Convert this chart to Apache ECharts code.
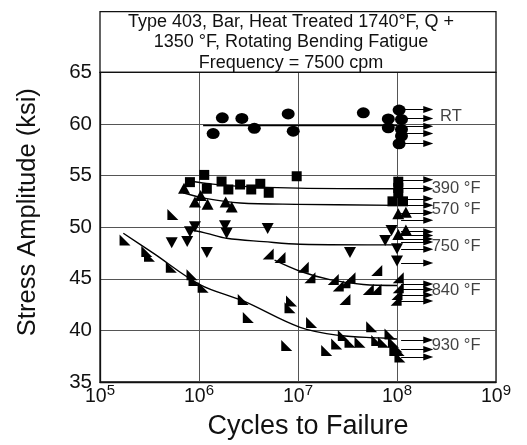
<!DOCTYPE html>
<html>
<head>
<meta charset="utf-8">
<script src="https://cdn.jsdelivr.net/npm/echarts@6/dist/echarts.min.js"></script>
<style>
html,body{margin:0;padding:0;background:#fff;}
#chart{width:527px;height:445px;}
</style>
</head>
<body>
<div id="chart"></div>
<script>
// ---- Data (cycles, stress ksi) ----
const titleLines = ['Type 403, Bar, Heat Treated 1740\u00b0F, Q +', '1350 \u00b0F, Rotating Bending Fatigue', 'Frequency = 7500 cpm'];
const xTickExponents = [5, 6, 7, 8, 9];
const yTicks = [35, 40, 45, 50, 55, 60, 65];

const rtPts = [[1.39e6,59.06],[1.72e6,60.59],[2.71e6,60.53],[3.62e6,59.57],[7.96e6,60.97],[8.95e6,59.3],[4.57e7,61.07],[8.17e7,60.48],[8.17e7,59.63],[1.05e8,61.34],[1.11e8,60.43],[1.11e8,59.47],[1.11e8,58.83],[1.05e8,58.08]];
const rtRunout = [61.39,60.52,59.78,59.06,58.1];
const rtFit = [[1.1e6,59.85],[1.0e8,59.85]];

const f390Pts = [[8.1e5,54.36],[1.13e6,55.06],[1.2e6,53.72],[1.69e6,54.42],[1.98e6,53.65],[2.6e6,54.13],[3.37e6,53.65],[4.16e6,54.2],[5.06e6,53.33],[9.7e6,54.93],[1.03e8,54.4],[1.03e8,53.8],[1.03e8,53.3],[9.0e7,52.5],[1.15e8,52.5]];
const f390Runout = [54.58,53.72];
const f390Fit = [[8.7e5,54.42],[1.29e6,54.2],[2.4e6,53.97],[1.0e7,53.78],[1.0e8,53.72]];

const f570Pts = [[7.06e5,53.78],[9.1e5,52.44],[1.04e6,53.07],[1.22e6,52.21],[1.86e6,52.44],[2.14e6,51.96],[1.03e8,51.3],[1.23e8,51.45],[1.23e8,49.72],[1.03e8,49.3]];
const f570Runout = [52.75,52.11,51.39,50.68,49.56,49.18];
const f570Fit = [[6.9e5,53.33],[1.2e6,52.76],[2.6e6,52.34],[1.0e7,52.21],[1.0e8,52.11]];

const f750Pts = [[5.3e5,48.5],[7.6e5,48.6],[8.1e5,49.56],[9.1e5,50.04],[1.2e6,47.55],[1.83e6,50.14],[1.9e6,49.4],[4.94e6,49.88],[3.35e7,47.55],[7.6e7,48.7],[8.8e7,49.68],[1.0e8,47.9],[1.0e8,46.72]];
const f750Runout = [48.85,48.57,47.87,46.52];
const f750Fit = [[8.4e5,49.72],[1.2e6,49.4],[1.9e6,48.92],[4.5e6,48.6],[1.05e7,48.35],[1.0e8,48.28]];

const f840Pts = [[5.0e6,47.39],[6.58e6,47.07],[1.13e7,46.11],[1.32e7,45.09],[2.27e7,44.92],[2.55e7,44.29],[2.98e7,44.61],[3.35e7,45.09],[2.98e7,43.0],[6.24e7,45.79],[5.13e7,43.96],[6.14e7,43.96],[1.03e8,45.09],[1.03e8,44.13],[1.0e8,43.48],[9.8e7,42.91]];
const f840Runout = [44.5,43.96,43.43,42.85];
const f840Fit = [[5.8e6,46.8],[1.05e7,45.73],[2.1e7,44.92],[4.57e7,44.44],[1.0e8,44.35]];

const f930Pts = [[1.79e5,48.76],[2.97e5,47.65],[3.16e5,47.17],[5.25e5,46.11],[5.45e5,51.22],[8.5e5,45.4],[8.9e5,44.83],[1.1e6,44.19],[2.8e6,43.0],[3.15e6,41.25],[7.7e6,38.54],[8.3e6,42.2],[8.6e6,42.85],[1.37e7,40.77],[1.95e7,38.06],[2.46e7,38.69],[2.87e7,39.5],[3.35e7,38.85],[4.23e7,38.85],[5.55e7,40.36],[6.24e7,39.02],[7.28e7,38.85],[8.5e7,39.65],[9.2e7,38.85],[9.5e7,38.06],[1.07e8,37.42],[1.0e8,38.4],[1.05e8,38.06]];
const f930Runout = [39.06,38.14,37.42];
const f930Fit = [[1.72e5,49.41],[3.45e5,47.48],[1.02e6,44.44],[2.8e6,42.85],[1.05e7,40.29],[2.65e7,39.5],[6.7e7,39.27],[1.0e8,39.17]];

const runoutStartN = 1.1e8;
const runoutEndN = 2.07e8;

const seriesLabels = ['RT', '390 \u00b0F', '570 \u00b0F', '750 \u00b0F', '840 \u00b0F', '930 \u00b0F'];
const seriesLabelN = [2.72e8, 2.24e8, 2.24e8, 2.24e8, 2.24e8, 2.24e8];
const seriesLabelS = [60.69, 53.72, 51.73, 48.13, 43.87, 38.54];

// ---- Chart ----
const FONT = '"Liberation Sans", Arial, sans-serif';
const INK = '#000';
const chart = echarts.init(document.getElementById('chart'), null, {renderer: 'canvas'});

const groups = [
  {pts: rtPts, run: rtRunout, fit: rtFit, symbol: 'circle', size: [13, 11], rotate: 0},
  {pts: f390Pts, run: f390Runout, fit: f390Fit, symbol: 'rect', size: [10, 10], rotate: 0},
  {pts: f570Pts, run: f570Runout, fit: f570Fit, symbol: 'triangle', size: [12, 11], rotate: 0},
  {pts: f750Pts, run: f750Runout, fit: f750Fit, symbol: 'triangle', size: [12, 11], rotate: 180},
  {pts: f840Pts, run: f840Runout, fit: f840Fit, symbol: 'path://M10,0 L10,10 L0,10 Z', size: [11, 11], rotate: 0},
  {pts: f930Pts, run: f930Runout, fit: f930Fit, symbol: 'path://M0,0 L0,10 L10,10 Z', size: [11, 11], rotate: 0}
];

const series = [];
groups.forEach(g => {
  series.push({
    type: 'line', data: g.fit, smooth: 0.35, showSymbol: false, symbol: 'none',
    lineStyle: {color: INK, width: 1.4}, z: 3, silent: true
  });
  series.push({
    type: 'lines', coordinateSystem: 'cartesian2d',
    data: g.run.map(s => ({coords: [[runoutStartN, s], [runoutEndN, s]]})),
    symbol: ['none', 'triangle'], symbolSize: [0, [7, 10]],
    lineStyle: {color: INK, width: 1.2, opacity: 1}, z: 3, silent: true
  });
  series.push({
    type: 'scatter', data: g.pts, symbol: g.symbol, symbolSize: g.size, symbolRotate: g.rotate,
    itemStyle: {color: INK, opacity: 1}, z: 4, silent: true
  });
});

series.push({
  type: 'scatter', symbolSize: 0, silent: true, z: 5,
  data: seriesLabels.map((t, i) => [seriesLabelN[i], seriesLabelS[i], t]),
  label: {
    show: true, position: 'right', distance: 0,
    formatter: p => p.data[2],
    fontFamily: FONT, fontSize: 16.5, color: '#111'
  }
});

const option = {
  animation: false,
  backgroundColor: '#fff',
  grid: {left: 100, right: 31, top: 72.3, bottom: 60, show: true, borderColor: '#111', borderWidth: 1.3, backgroundColor: 'transparent'},
  xAxis: {
    type: 'log', logBase: 10, min: Math.pow(10, xTickExponents[0]), max: Math.pow(10, xTickExponents[xTickExponents.length - 1]),
    name: 'Cycles to Failure', nameLocation: 'middle', nameGap: 31,
    nameTextStyle: {fontFamily: FONT, fontSize: 27, color: '#111', padding: [0, 0, 0, 20]},
    axisLine: {show: true, lineStyle: {color: '#111', width: 1.3}},
    axisTick: {show: false},
    splitLine: {show: true, lineStyle: {color: '#555', width: 1}},
    axisLabel: {
      margin: 1,
      formatter: v => '{b|10}{s|' + Math.round(Math.log10(v)) + '}',
      rich: {
        b: {fontFamily: FONT, fontSize: 19.5, color: '#111', lineHeight: 28},
        s: {fontFamily: FONT, fontSize: 15, color: '#111', lineHeight: 15, verticalAlign: 'top'}
      }
    }
  },
  yAxis: {
    type: 'value', min: yTicks[0], max: yTicks[yTicks.length - 1], interval: 5,
    name: 'Stress Amplitude (ksi)', nameLocation: 'middle', nameGap: 59,
    nameTextStyle: {fontFamily: FONT, fontSize: 25.5, color: '#111', padding: [0, 0, 0, 30]},
    axisLine: {show: true, lineStyle: {color: '#111', width: 1.3}},
    axisTick: {show: false},
    splitLine: {show: true, lineStyle: {color: '#555', width: 1}},
    axisLabel: {margin: 8, fontFamily: FONT, fontSize: 20.5, color: '#111'}
  },
  graphic: [
    {type: 'rect', shape: {x: 100, y: 11.7, width: 396, height: 60.6}, style: {fill: 'none', stroke: '#111', lineWidth: 1.3}, z: 10},
    {type: 'text', x: 291, y: 11.5, style: {text: titleLines.join('\n'), font: '18px "Liberation Sans", Arial, sans-serif', fill: '#111', textAlign: 'center', lineHeight: 20.5}, z: 10}
  ],
  series: series
};
chart.setOption(option);
</script>
</body>
</html>
